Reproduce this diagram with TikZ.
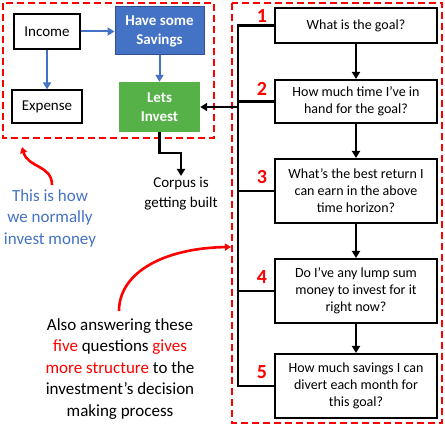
\documentclass[tikz,border=0pt]{standalone}
\usepackage{fontspec}
\setmainfont{Carlito}
\usetikzlibrary{arrows.meta}
\definecolor{mblue}{HTML}{4472C4}
\definecolor{mbluedark}{HTML}{2F528F}
\definecolor{mgreen}{RGB}{86,178,72}
\definecolor{mred}{HTML}{FF0000}
\tikzset{
  plainbox/.style={draw=black, line width=1.2pt, fill=white, inner sep=2pt, font=\fontsize{15}{18}\selectfont},
  qbox/.style={draw=black, line width=2pt, fill=white, minimum width=162pt, align=center, inner sep=2pt, font=\fontsize{14}{17}\selectfont},
  numlbl/.style={text=mred, font=\fontsize{20}{22}\selectfont\bfseries},
  bluearrow/.style={draw=mblue, line width=2pt, -{Triangle[length=7pt,width=8pt]}},
  blackarrow/.style={draw=black, line width=2.4pt, -{Triangle[length=7pt,width=8pt]}},
  redarrow/.style={draw=mred, line width=2.6pt, -{Triangle[length=6pt,width=7pt]}},
  redframe/.style={draw=mred, line width=2pt, dash pattern=on 7pt off 4pt},
}
\begin{document}
\begin{tikzpicture}[x=1pt,y=-1pt]
\useasboundingbox (0,0) rectangle (445,427);
% frames
\draw[redframe] (3,3) rectangle (214,138);
\draw[redframe] (232,3) rectangle (442,423);
% left part
\node[plainbox, minimum width=66pt, minimum height=35pt] (income) at (47,31.5) {Income};
\node[plainbox, minimum width=70pt, minimum height=33pt] (expense) at (47,106.5) {Expense};
\node[draw=mbluedark, line width=1pt, fill=mblue, text=white, minimum width=89pt, minimum height=48pt, align=center, inner sep=1pt, font=\fontsize{15}{19}\selectfont\bfseries] (savings) at (159.5,31) {Have some\\Savings};
\node[fill=mgreen, text=white, minimum width=81pt, minimum height=50pt, align=center, inner sep=1pt, font=\fontsize{15}{19}\selectfont\bfseries] (invest) at (159.5,107) {Lets\\Invest};
\draw[bluearrow] (income.east) -- (income.east -| savings.west);
\draw[bluearrow] (income.south) -- (income.south |- expense.north);
\draw[bluearrow] (savings.south) -- (savings.south |- invest.north);
\node[anchor=north, align=center, inner sep=1pt, font=\fontsize{15}{20}\selectfont] (corpus) at (181,176) {Corpus is\\getting built};
\draw[blackarrow] (invest.south) -- ++(0,21) -| (corpus.north);
\node[align=center, text=mblue, inner sep=0pt, font=\fontsize{17}{21.5}\selectfont] (howtxt) at (50,218) {This is how\\we normally\\invest money};
\coordinate (howtip) at (22,147);
\draw[redarrow] (howtxt.north) ++(2,-4) .. controls (52,165) and (28,168) .. (howtip);
% right part
\node[qbox, minimum height=35pt] (q1) at (356,25.5) {What is the goal?};
\node[qbox, minimum height=43pt] (q2) at (356,101.5) {How much time I've in\\hand for the goal?};
\node[qbox, minimum height=64pt] (q3) at (356,191) {What's the best return I\\can earn in the above\\time horizon?};
\node[qbox, minimum height=64pt] (q4) at (356,291) {Do I've any lump sum\\money to invest for it\\right now?};
\node[qbox, minimum height=64pt] (q5) at (356,386) {How much savings I can\\divert each month for\\this goal?};
\foreach \a/\b in {q1/q2,q2/q3,q3/q4,q4/q5}
  \draw[blackarrow] (\a.south) -- (\b.north);
\coordinate (bustop) at (238,25.5);
\coordinate (busbot) at (238,386);
\draw[line width=2.4pt, line join=miter] (q1.west) -- (bustop) -- (busbot) -- (q5.west);
\foreach \q in {q2,q3,q4}
  \draw[line width=2.4pt] (\q.west) -- (\q.west -| bustop);
\draw[blackarrow] (invest.east -| bustop) -- (invest.east);
\node[numlbl] (n1) at (262,16) {1};
\node[numlbl] (n2) at (262,89) {2};
\node[numlbl] (n3) at (262,177) {3};
\node[numlbl] (n4) at (262,277) {4};
\node[numlbl] (n5) at (262,372) {5};
% bottom text
\node[align=center, inner sep=0pt, font=\fontsize{17}{21.5}\selectfont] (alsotxt) at (120,369) {Also answering these\\\textcolor{mred}{five} questions \textcolor{mred}{gives}\\\textcolor{mred}{more structure} to the\\investment's decision\\making process};
\coordinate (alsotip) at (231,247);
\draw[redarrow] (119,311) .. controls (119,272) and (165,248) .. (alsotip);
\end{tikzpicture}
\end{document}
